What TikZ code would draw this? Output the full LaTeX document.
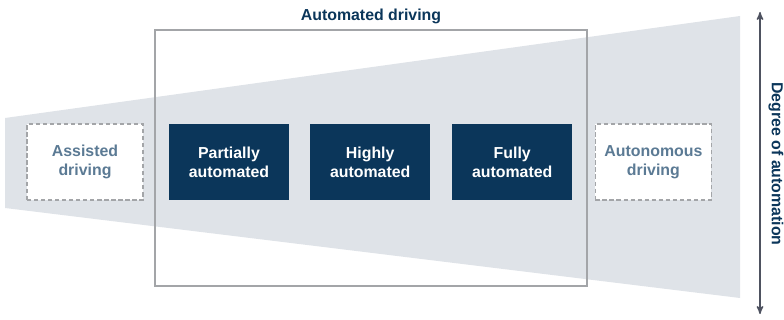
\documentclass[tikz,border=0pt]{standalone}
\usepackage{fontspec}
\setmainfont{Liberation Sans}
\usepackage{tikz}
\usetikzlibrary{arrows}
\usetikzlibrary{positioning}
\definecolor{navy}{HTML}{0B365A}
\definecolor{fadeblue}{HTML}{5B7A94}
\definecolor{wedge}{HTML}{DFE3E8}
\definecolor{framegray}{HTML}{A3A5A8}
\definecolor{axisgray}{HTML}{4E5260}
\tikzset{
    level/.style={
           rectangle,
           fill=navy,
           text=white,
           minimum width=3cm,
           minimum height=1.9cm,
           inner sep=2pt,
           align=center,
           font=\fontsize{11.3}{13.5}\selectfont\bfseries,
           },
    level2/.style={
           rectangle,
           fill=white,
           draw=framegray, densely dashed, line width=0.9pt,
           text=fadeblue,
           minimum width=2.9cm,
           minimum height=1.9cm,
           inner sep=2pt,
           align=center,
           font=\fontsize{11.3}{13.5}\selectfont\bfseries,
           },
}
\begin{document}
\begin{tikzpicture}
[
->,>=stealth'
]
 \useasboundingbox (0,0) rectangle (19.6,-8);

 % widening band behind the levels
 \fill[wedge] (0.125,-2.95) -- (18.5,-0.4) -- (18.5,-7.45) -- (0.125,-5.2) -- cycle;

 % frame round the automated levels
 \node[draw=framegray, line width=1pt, minimum width=10.8cm, minimum height=6.4cm,
 inner sep=0pt] (FRAME) at (9.275,-3.95) {};
 \node[anchor=south, text=navy, yshift=0cm,
 font=\fontsize{11.3}{13.5}\selectfont\bfseries] (TITLE) at (FRAME.north) {Automated driving};

 % LEVELS
 \node[level2] (ASSISTED) at (2.125,-4.05) {Assisted\\driving};

 \node[level,
 right of=ASSISTED,
 node distance=3.6cm] (PARTIAL)
 {%
Partially\\automated
 };

 \node[level,
 right of=PARTIAL,
 node distance=3.53cm] (HIGH)
 {%
Highly\\automated
 };

 \node[level,
 right of=HIGH,
 node distance=3.55cm] (FULL)
 {%
Fully\\automated
 };

 \node[level2,
 right of=FULL,
 node distance=3.53cm] (AUTONOMOUS)
 {%
Autonomous\\driving
 };

 % degree axis
 \coordinate (AXTOP) at (19.0,-0.3);
 \coordinate (AXBOT) at (19.0,-7.85);
 \draw[<->, axisgray, line width=1pt] (AXTOP) -- (AXBOT);
 \node[rotate=-90, text=navy, font=\fontsize{11.3}{13.5}\selectfont\bfseries] (DEGREE)
 at (19.4,-4.1) {Degree of automation};

\end{tikzpicture}
\end{document}
